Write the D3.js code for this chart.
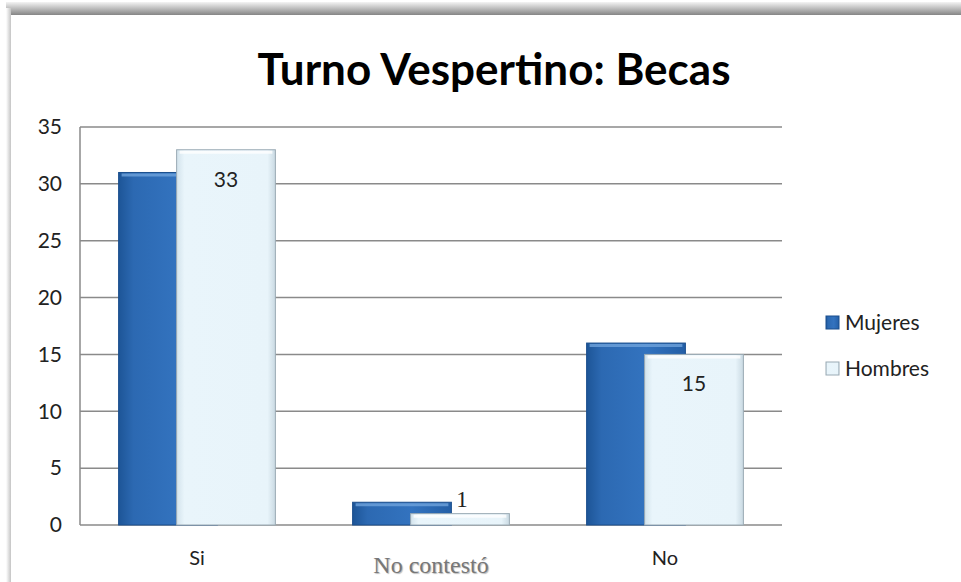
<!DOCTYPE html>
<html>
<head>
<meta charset="utf-8">
<script src="https://cdn.jsdelivr.net/npm/d3@7"></script>
<style>
  body { margin: 0; background: #fff; }
  svg { display: block; }
</style>
</head>
<body>
<svg id="chart" width="961" height="582"></svg>
<script>
// ===== Dades =====
const categories = ["Si", "No contestó", "No"];
const series = ["Mujeres", "Hombres"];
const mujeres = [31, 2, 16];
const hombres = [33, 1, 15];
const yTicks = [0, 5, 10, 15, 20, 25, 30, 35];

const svg = d3.select("#chart");
const W = 961, H = 582;
const plot = { left: 80, right: 782, top: 127, bottom: 525 };

// ===== Defs (gradients) =====
const defs = svg.append("defs");

const topBand = defs.append("linearGradient").attr("id", "topBand")
  .attr("x1", 0).attr("y1", 0).attr("x2", 0).attr("y2", 1);
topBand.append("stop").attr("offset", "0%").attr("stop-color", "#f4f4f4");
topBand.append("stop").attr("offset", "100%").attr("stop-color", "#858585");

const leftBand = defs.append("linearGradient").attr("id", "leftBand")
  .attr("x1", 0).attr("y1", 0).attr("x2", 1).attr("y2", 0);
leftBand.append("stop").attr("offset", "0%").attr("stop-color", "#ffffff");
leftBand.append("stop").attr("offset", "100%").attr("stop-color", "#c4c4c4");

const gMuj = defs.append("linearGradient").attr("id", "gMuj")
  .attr("x1", 0).attr("y1", 0).attr("x2", 1).attr("y2", 0);
gMuj.append("stop").attr("offset", "0%").attr("stop-color", "#1d5597");
gMuj.append("stop").attr("offset", "15%").attr("stop-color", "#2c69b2");
gMuj.append("stop").attr("offset", "60%").attr("stop-color", "#3373bf");
gMuj.append("stop").attr("offset", "100%").attr("stop-color", "#245fa6");

const gHom = defs.append("linearGradient").attr("id", "gHom")
  .attr("x1", 0).attr("y1", 0).attr("x2", 1).attr("y2", 0);
gHom.append("stop").attr("offset", "0%").attr("stop-color", "#d3e3ec");
gHom.append("stop").attr("offset", "8%").attr("stop-color", "#e9f5fb");
gHom.append("stop").attr("offset", "92%").attr("stop-color", "#e8f4fa");
gHom.append("stop").attr("offset", "100%").attr("stop-color", "#c9d9e2");

const fills = { Mujeres: "url(#gMuj)", Hombres: "url(#gHom)" };
const strokes = { Mujeres: "#1b4f8d", Hombres: "#9aaab4" };
const bevels = { Mujeres: "#6fa3dc", Hombres: "#ffffff" };

// ===== Marc =====
svg.append("rect").attr("x", 0).attr("y", 0).attr("width", W).attr("height", H).attr("fill", "#fff");
svg.append("rect").attr("x", 6).attr("y", 2).attr("width", W - 6).attr("height", 13).attr("fill", "url(#topBand)");
svg.append("rect").attr("x", 6).attr("y", 8).attr("width", 5).attr("height", H - 8).attr("fill", "url(#leftBand)");

// ===== Escales =====
const x = d3.scaleBand()
  .domain(categories)
  .range([plot.left, plot.right])
  .paddingInner(0.33)
  .paddingOuter(0.165);

const y = d3.scaleLinear().domain([0, 35]).range([plot.bottom, plot.top]);

const barW = x.bandwidth() * 0.63;
const sub = d3.scaleOrdinal().domain(series).range([0, x.bandwidth() - barW]);

// ===== Graella =====
svg.append("g")
  .selectAll("line")
  .data(yTicks)
  .join("line")
  .attr("x1", plot.left)
  .attr("x2", plot.right)
  .attr("y1", d => y(d))
  .attr("y2", d => y(d))
  .attr("stroke", "#8a8a8a")
  .attr("stroke-width", 1.5);

svg.append("line")
  .attr("x1", plot.left).attr("x2", plot.left)
  .attr("y1", plot.top).attr("y2", plot.bottom)
  .attr("stroke", "#8a8a8a").attr("stroke-width", 1.5);

// Eix Y
const yAxis = svg.append("g")
  .attr("transform", `translate(${plot.left},0)`)
  .call(d3.axisLeft(y).tickValues(yTicks).tickSize(0).tickPadding(18));
yAxis.select(".domain").remove();
yAxis.selectAll("text")
  .attr("font-family", "Lato, 'Open Sans', sans-serif")
  .attr("font-size", 21)
  .attr("fill", "#222");

// Eix X
const xAxis = svg.append("g")
  .attr("transform", `translate(0,${plot.bottom})`)
  .call(d3.axisBottom(x).tickSize(0).tickPadding(26));
xAxis.select(".domain").remove();
xAxis.selectAll("text")
  .attr("font-family", d => d === "No contestó" ? "'Liberation Serif', serif" : "Lato, 'Open Sans', sans-serif")
  .attr("font-size", d => d === "No contestó" ? 24 : 20)
  .attr("fill", d => d === "No contestó" ? "#777" : "#222")
  .attr("dy", d => d === "No contestó" ? "0.92em" : "0.71em")
  .style("text-shadow", d => d === "No contestó" ? "1px 1px 1px #bbb" : null);

// ===== Barres =====
const rows = categories.map((c, i) => ({ cat: c, Mujeres: mujeres[i], Hombres: hombres[i] }));

series.forEach(s => {
  const g = svg.append("g").attr("class", "serie-" + s);
  g.selectAll("rect.bar")
    .data(rows)
    .join("rect")
    .attr("class", "bar")
    .attr("x", d => x(d.cat) + sub(s))
    .attr("y", d => y(d[s]))
    .attr("width", barW)
    .attr("height", d => y(0) - y(d[s]))
    .attr("fill", fills[s])
    .attr("stroke", strokes[s])
    .attr("stroke-width", 1);
  // bisell superior
  g.selectAll("line.bevel")
    .data(rows)
    .join("line")
    .attr("class", "bevel")
    .attr("x1", d => x(d.cat) + sub(s) + 3)
    .attr("x2", d => x(d.cat) + sub(s) + barW - 3)
    .attr("y1", d => y(d[s]) + 2.5)
    .attr("y2", d => y(d[s]) + 2.5)
    .attr("stroke", bevels[s])
    .attr("stroke-width", 3)
    .attr("opacity", 0.8);
});

// Etiquetes (només Hombres)
svg.append("g")
  .selectAll("text")
  .data(rows)
  .join("text")
  .attr("x", d => x(d.cat) + sub("Hombres") + barW / 2 + ((y(0) - y(d.Hombres) > 45) ? 0 : 2))
  .attr("y", d => (y(0) - y(d.Hombres) > 45) ? y(d.Hombres) + 37 : y(d.Hombres) - 7)
  .attr("text-anchor", "middle")
  .attr("font-family", d => (y(0) - y(d.Hombres) > 45) ? "Lato, 'Open Sans', sans-serif" : "'Liberation Serif', serif")
  .attr("font-size", d => (y(0) - y(d.Hombres) > 45) ? 21 : 23)
  .attr("fill", "#222")
  .text(d => d.Hombres);

// ===== Títol =====
svg.append("text")
  .attr("x", 494)
  .attr("y", 85)
  .attr("text-anchor", "middle")
  .attr("font-family", "Lato, 'Open Sans', sans-serif")
  .attr("font-weight", "bold")
  .attr("font-size", 44)
  .attr("fill", "#000")
  .text("Turno Vespertino: Becas");

// ===== Llegenda =====
const legend = svg.append("g").attr("transform", "translate(826,0)");
const legY = [323, 369];
series.forEach((s, i) => {
  legend.append("rect")
    .attr("x", 0).attr("y", legY[i] - 7)
    .attr("width", 13).attr("height", 13)
    .attr("fill", fills[s])
    .attr("stroke", strokes[s]);
  legend.append("text")
    .attr("x", 19).attr("y", legY[i])
    .attr("dy", "0.35em")
    .attr("font-family", "Lato, 'Open Sans', sans-serif")
    .attr("font-size", 21)
    .attr("fill", "#222")
    .text(s);
});
</script>
</body>
</html>
